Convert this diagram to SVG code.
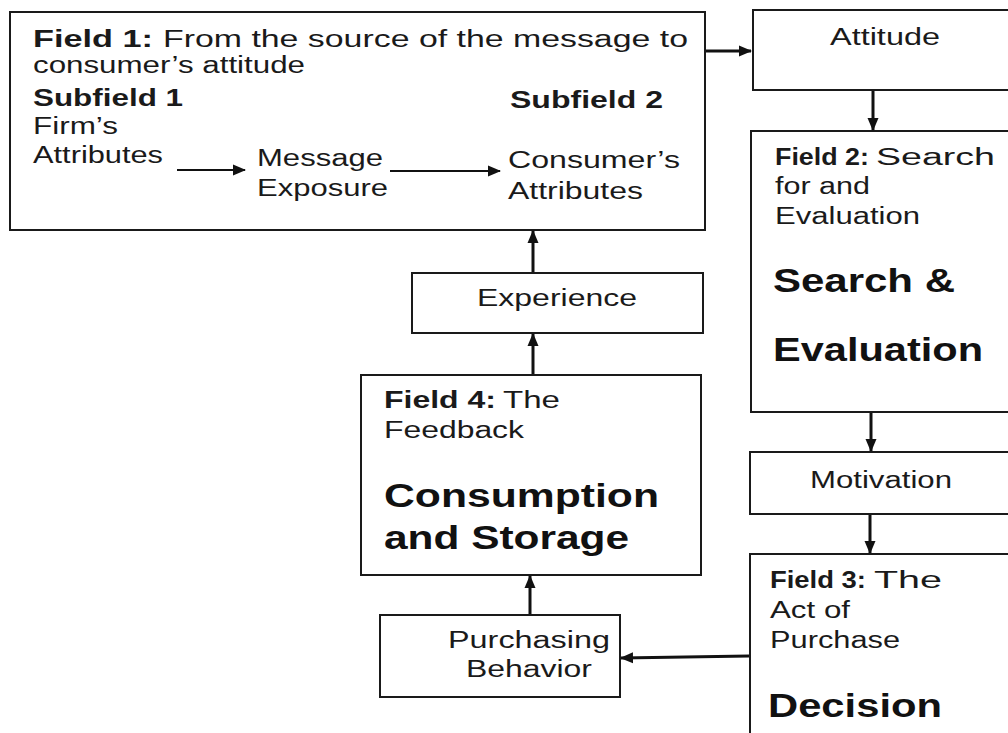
<svg xmlns="http://www.w3.org/2000/svg" width="1008" height="733" viewBox="0 0 1008 733">
<style>
.box{fill:#fff;stroke:#1a1a1a;stroke-width:2}
.t{font-family:"Liberation Sans",Arial,sans-serif;font-size:23px;fill:#1a1a1a}
.b{font-weight:bold}
.big{font-family:"Liberation Sans",Arial,sans-serif;font-size:33px;font-weight:bold;fill:#111}
.c{stroke:#111;stroke-width:3;fill:none}
.ci{stroke:#111;stroke-width:2;fill:none}
</style>
<defs>
<marker id="ah" markerWidth="14" markerHeight="14" refX="12" refY="7" orient="auto" markerUnits="userSpaceOnUse">
<path d="M0,1.5 L13,7 L0,12.5 Z" fill="#111"/>
</marker>
</defs>
<rect width="1008" height="733" fill="#fff"/>
<g id="field1">
<rect class="box" x="10" y="12" width="695" height="218"/>
<text class="t b" x="33" y="47" textLength="120" lengthAdjust="spacingAndGlyphs">Field 1:</text>
<text class="t" x="163" y="47" textLength="525" lengthAdjust="spacingAndGlyphs">From the source of the message to</text>
<text class="t" x="33" y="73" textLength="272" lengthAdjust="spacingAndGlyphs">consumer’s attitude</text>
<text class="t b" x="33" y="106" textLength="150" lengthAdjust="spacingAndGlyphs">Subfield 1</text>
<text class="t b" x="510" y="108" textLength="153" lengthAdjust="spacingAndGlyphs">Subfield 2</text>
<text class="t" x="33" y="134" textLength="85" lengthAdjust="spacingAndGlyphs">Firm’s</text>
<text class="t" x="33" y="163" textLength="130" lengthAdjust="spacingAndGlyphs">Attributes</text>
<text class="t" x="257" y="166" textLength="126" lengthAdjust="spacingAndGlyphs">Message</text>
<text class="t" x="257" y="196" textLength="131" lengthAdjust="spacingAndGlyphs">Exposure</text>
<text class="t" x="508" y="168" textLength="172" lengthAdjust="spacingAndGlyphs">Consumer’s</text>
<text class="t" x="508" y="199" textLength="135" lengthAdjust="spacingAndGlyphs">Attributes</text>
</g>
<g id="attitude">
<rect class="box" x="753" y="10" width="260" height="80"/>
<text class="t" x="830" y="45" textLength="110" lengthAdjust="spacingAndGlyphs">Attitude</text>
</g>
<g id="field2">
<rect class="box" x="751" y="131" width="262" height="281"/>
<text class="t b" x="775" y="165" textLength="94" lengthAdjust="spacingAndGlyphs">Field 2:</text>
<text class="t" x="876" y="165" textLength="119" lengthAdjust="spacingAndGlyphs">Search</text>
<text class="t" x="775" y="194" textLength="95" lengthAdjust="spacingAndGlyphs">for and</text>
<text class="t" x="775" y="224" textLength="145" lengthAdjust="spacingAndGlyphs">Evaluation</text>
<text class="big" x="773" y="292" textLength="182" lengthAdjust="spacingAndGlyphs">Search &amp;</text>
<text class="big" x="773" y="361" textLength="210" lengthAdjust="spacingAndGlyphs">Evaluation</text>
</g>
<g id="motivation">
<rect class="box" x="750" y="452" width="263" height="62"/>
<text class="t" x="810" y="488" textLength="142" lengthAdjust="spacingAndGlyphs">Motivation</text>
</g>
<g id="field3">
<rect class="box" x="750" y="554" width="263" height="190"/>
<text class="t b" x="770" y="588" textLength="96" lengthAdjust="spacingAndGlyphs">Field 3:</text>
<text class="t" x="874" y="588" textLength="68" lengthAdjust="spacingAndGlyphs">The</text>
<text class="t" x="770" y="618" textLength="80" lengthAdjust="spacingAndGlyphs">Act of</text>
<text class="t" x="770" y="648" textLength="130" lengthAdjust="spacingAndGlyphs">Purchase</text>
<text class="big" x="768" y="717" textLength="174" lengthAdjust="spacingAndGlyphs">Decision</text>
</g>
<g id="experience">
<rect class="box" x="412" y="273" width="291" height="60"/>
<text class="t" x="477" y="306" textLength="160" lengthAdjust="spacingAndGlyphs">Experience</text>
</g>
<g id="field4">
<rect class="box" x="361" y="375" width="340" height="200"/>
<text class="t b" x="384" y="408" textLength="112" lengthAdjust="spacingAndGlyphs">Field 4:</text>
<text class="t" x="503" y="408" textLength="57" lengthAdjust="spacingAndGlyphs">The</text>
<text class="t" x="384" y="438" textLength="140" lengthAdjust="spacingAndGlyphs">Feedback</text>
<text class="big" x="384" y="507" textLength="275" lengthAdjust="spacingAndGlyphs">Consumption</text>
<text class="big" x="384" y="549" textLength="245" lengthAdjust="spacingAndGlyphs">and Storage</text>
</g>
<g id="purchasing">
<rect class="box" x="380" y="615" width="240" height="82"/>
<text class="t" x="448" y="648" textLength="162" lengthAdjust="spacingAndGlyphs">Purchasing</text>
<text class="t" x="466" y="677" textLength="126" lengthAdjust="spacingAndGlyphs">Behavior</text>
</g>
<g id="connectors">
<line class="c" x1="706" y1="51" x2="751" y2="51" marker-end="url(#ah)"/>
<line class="c" x1="873" y1="91" x2="873" y2="130" marker-end="url(#ah)"/>
<line class="c" x1="871" y1="413" x2="871" y2="451" marker-end="url(#ah)"/>
<line class="c" x1="870" y1="515" x2="870" y2="553" marker-end="url(#ah)"/>
<line class="c" x1="749" y1="656" x2="621" y2="658" marker-end="url(#ah)"/>
<line class="c" x1="530" y1="614" x2="530" y2="576" marker-end="url(#ah)"/>
<line class="c" x1="533" y1="374" x2="533" y2="334" marker-end="url(#ah)"/>
<line class="c" x1="533" y1="272" x2="533" y2="231" marker-end="url(#ah)"/>
<line class="ci" x1="177" y1="170" x2="245" y2="170" marker-end="url(#ah)"/>
<line class="ci" x1="390" y1="171" x2="500" y2="171" marker-end="url(#ah)"/>
</g>
</svg>
